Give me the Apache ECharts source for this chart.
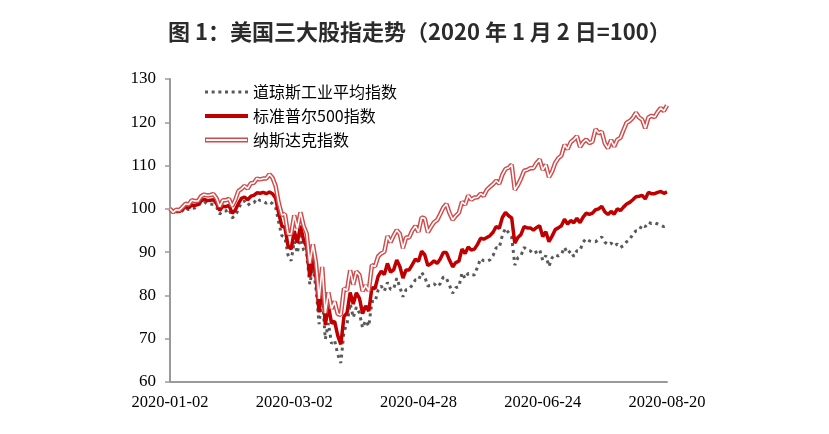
<!DOCTYPE html>
<html>
<head>
<meta charset="utf-8">
<script src="https://cdn.jsdelivr.net/npm/echarts@6/dist/echarts.min.js"></script>
<style>
    html, body { margin: 0; padding: 0; background: #fff; }
    #chart { width: 829px; height: 434px; }
</style>
</head>
<body>
<div id="chart"></div>
<script>
// Trading days, 2020-01-02 .. 2020-08-20
const dates = [
    '2020-01-02','2020-01-03','2020-01-06','2020-01-07','2020-01-08','2020-01-09','2020-01-10','2020-01-13','2020-01-14','2020-01-15','2020-01-16','2020-01-17','2020-01-21','2020-01-22','2020-01-23','2020-01-24','2020-01-27','2020-01-28','2020-01-29','2020-01-30','2020-01-31',
    '2020-02-03','2020-02-04','2020-02-05','2020-02-06','2020-02-07','2020-02-10','2020-02-11','2020-02-12','2020-02-13','2020-02-14','2020-02-18','2020-02-19','2020-02-20','2020-02-21','2020-02-24','2020-02-25','2020-02-26','2020-02-27','2020-02-28',
    '2020-03-02','2020-03-03','2020-03-04','2020-03-05','2020-03-06','2020-03-09','2020-03-10','2020-03-11','2020-03-12','2020-03-13','2020-03-16','2020-03-17','2020-03-18','2020-03-19','2020-03-20','2020-03-23','2020-03-24','2020-03-25','2020-03-26','2020-03-27','2020-03-30','2020-03-31',
    '2020-04-01','2020-04-02','2020-04-03','2020-04-06','2020-04-07','2020-04-08','2020-04-09','2020-04-13','2020-04-14','2020-04-15','2020-04-16','2020-04-17','2020-04-20','2020-04-21','2020-04-22','2020-04-23','2020-04-24','2020-04-27','2020-04-28','2020-04-29','2020-04-30',
    '2020-05-01','2020-05-04','2020-05-05','2020-05-06','2020-05-07','2020-05-08','2020-05-11','2020-05-12','2020-05-13','2020-05-14','2020-05-15','2020-05-18','2020-05-19','2020-05-20','2020-05-21','2020-05-22','2020-05-26','2020-05-27','2020-05-28','2020-05-29',
    '2020-06-01','2020-06-02','2020-06-03','2020-06-04','2020-06-05','2020-06-08','2020-06-09','2020-06-10','2020-06-11','2020-06-12','2020-06-15','2020-06-16','2020-06-17','2020-06-18','2020-06-19','2020-06-22','2020-06-23','2020-06-24','2020-06-25','2020-06-26','2020-06-29','2020-06-30',
    '2020-07-01','2020-07-02','2020-07-06','2020-07-07','2020-07-08','2020-07-09','2020-07-10','2020-07-13','2020-07-14','2020-07-15','2020-07-16','2020-07-17','2020-07-20','2020-07-21','2020-07-22','2020-07-23','2020-07-24','2020-07-27','2020-07-28','2020-07-29','2020-07-30','2020-07-31',
    '2020-08-03','2020-08-04','2020-08-05','2020-08-06','2020-08-07','2020-08-10','2020-08-11','2020-08-12','2020-08-13','2020-08-14','2020-08-17','2020-08-18','2020-08-19','2020-08-20'
];

// Index levels, 2020-01-02 = 100
const dowValues = [
    100.0, 99.2, 99.4, 99.0, 99.6, 100.3, 99.8, 100.1, 100.2, 100.6, 101.5, 101.7, 101.1, 101.1, 101.0, 100.4, 98.8, 99.5, 99.5, 100.0, 97.9,
    98.4, 99.8, 101.5, 101.8, 100.8, 101.4, 101.4, 102.4, 101.9, 101.8, 101.3, 101.7, 101.2, 100.4, 96.9, 93.8, 93.4, 89.3, 88.0,
    92.5, 89.8, 93.8, 90.5, 89.6, 82.6, 86.7, 81.6, 73.4, 80.3, 69.9, 73.6, 68.9, 69.6, 66.4, 64.4, 71.7, 73.4, 78.1, 74.9, 77.3, 75.9,
    72.5, 74.2, 72.9, 78.6, 78.5, 81.2, 82.2, 81.0, 83.0, 81.4, 81.5, 84.0, 81.9, 79.7, 81.3, 81.5, 82.4, 83.6, 83.5, 85.3, 84.3,
    82.2, 82.3, 82.7, 82.0, 82.7, 84.3, 83.9, 82.3, 80.5, 81.8, 82.0, 85.2, 83.9, 85.1, 84.8, 84.7, 86.6, 88.5, 88.0, 87.9,
    88.2, 89.2, 91.0, 91.0, 93.9, 95.5, 94.5, 93.5, 87.0, 88.7, 89.2, 91.1, 90.5, 90.3, 89.6, 90.1, 90.6, 88.1, 89.2, 86.7, 88.7, 89.4,
    89.1, 89.5, 91.1, 89.7, 90.3, 89.0, 90.3, 90.4, 92.3, 93.1, 92.6, 92.4, 92.4, 93.0, 93.5, 92.3, 91.7, 92.1, 91.4, 91.9, 91.1, 91.5,
    92.4, 92.9, 94.2, 94.9, 95.0, 96.3, 95.9, 96.9, 96.6, 96.8, 96.5, 96.2, 95.9, 96.1
];

const spxValues = [
    100.0, 99.3, 99.6, 99.4, 99.9, 100.5, 100.2, 100.9, 100.8, 101.0, 101.8, 102.2, 101.9, 102.0, 102.1, 101.2, 99.6, 100.6, 100.5, 100.8, 99.0,
    99.7, 101.2, 102.4, 102.7, 102.1, 102.9, 103.1, 103.7, 103.6, 103.8, 103.5, 103.9, 103.5, 102.5, 99.0, 96.0, 95.7, 91.4, 90.7,
    94.9, 92.2, 96.1, 92.8, 91.2, 84.3, 88.5, 84.1, 76.1, 83.2, 73.2, 77.6, 73.6, 74.0, 70.7, 68.7, 75.1, 76.0, 80.7, 78.0, 80.6, 79.3,
    75.8, 77.6, 76.4, 81.8, 81.6, 84.4, 85.6, 84.8, 87.4, 85.4, 85.9, 88.2, 86.7, 84.0, 85.9, 85.9, 87.1, 88.4, 87.9, 90.2, 89.4,
    86.9, 87.3, 88.0, 87.4, 88.4, 89.9, 89.9, 88.1, 86.6, 87.6, 87.9, 90.7, 89.7, 91.2, 90.5, 90.7, 91.8, 93.2, 93.0, 93.4,
    93.8, 94.6, 95.9, 95.5, 98.0, 99.2, 98.4, 97.9, 92.1, 93.4, 94.1, 95.9, 95.6, 95.6, 95.1, 95.7, 96.1, 93.6, 94.7, 92.4, 93.7, 95.2,
    95.6, 96.1, 97.6, 96.5, 97.3, 96.8, 97.8, 96.8, 98.1, 99.0, 98.7, 99.0, 99.8, 100.0, 100.6, 99.3, 98.7, 99.4, 98.8, 100.0, 99.6, 100.4,
    101.1, 101.5, 102.1, 102.8, 102.9, 103.1, 102.3, 103.8, 103.5, 103.5, 103.8, 104.0, 103.6, 103.9
];

const nasdaqValues = [
    100.0, 99.2, 99.8, 99.7, 100.4, 101.2, 101.0, 102.0, 101.8, 101.8, 102.9, 103.3, 103.1, 103.2, 103.4, 102.4, 100.5, 102.0, 102.0, 102.3, 100.6,
    102.0, 104.1, 104.6, 105.3, 104.7, 105.9, 106.0, 107.0, 106.8, 107.0, 107.0, 108.0, 107.2, 105.3, 101.4, 98.6, 98.8, 94.2, 94.2,
    98.5, 95.5, 99.2, 96.1, 94.3, 87.4, 91.8, 87.5, 79.2, 86.6, 75.9, 80.7, 76.9, 78.6, 75.7, 75.5, 81.6, 81.2, 85.8, 82.5, 85.5, 84.7,
    81.0, 82.3, 81.1, 87.0, 86.7, 89.0, 89.7, 90.1, 93.7, 92.3, 93.8, 95.1, 94.2, 90.9, 93.4, 93.4, 95.0, 96.0, 94.7, 98.0, 97.8,
    94.6, 95.8, 96.9, 97.4, 98.8, 100.3, 101.1, 99.0, 97.5, 98.4, 99.1, 101.6, 101.0, 103.1, 102.1, 102.6, 102.7, 103.5, 103.0, 104.4,
    105.1, 105.7, 106.5, 105.8, 107.9, 109.2, 109.5, 110.2, 104.4, 105.5, 107.0, 108.8, 109.0, 109.4, 109.4, 110.6, 111.4, 109.0, 110.2, 107.3, 108.6, 110.6,
    111.7, 112.3, 114.8, 113.8, 115.4, 116.0, 116.8, 114.3, 115.4, 116.0, 115.2, 115.5, 118.4, 117.5, 117.8, 115.1, 114.0, 115.9, 114.4, 116.0, 116.4, 118.2,
    119.9, 120.3, 121.0, 122.2, 121.1, 120.6, 118.6, 121.1, 121.5, 121.2, 122.4, 123.3, 122.6, 123.9
];

const seriesNames = ['道琼斯工业平均指数', '标准普尔500指数', '纳斯达克指数'];

// Colors
const dowColor = '#595959';
const spxColor = '#C00000';
const nasdaqColor = '#D24A4A';

// Legend icons drawn as paths (dotted / solid / double line)
const dotIcon = 'path://M0,0h3v3h-3z M6.67,0h3v3h-3z M13.33,0h3v3h-3z M20,0h3v3h-3z M26.67,0h3v3h-3z M33.33,0h3v3h-3z M40,0h3v3h-3z';
const solidIcon = 'path://M0,0H43V4H0Z';
const doubleIcon = 'path://M0,0H43V5H0Z M1,1.6V3.4H42V1.6Z';

const serifFont = '"Times New Roman", "Liberation Serif", serif';
const cjkFont = '"Noto Sans CJK SC", sans-serif';

const chart = echarts.init(document.getElementById('chart'));

const options = {
    animation: false,
    backgroundColor: '#fff',
    title: {
        text: '图 1：美国三大股指走势（2020 年 1 月 2 日=100）',
        left: 168,
        top: 21,
        padding: 0,
        textStyle: {
            fontFamily: cjkFont,
            fontSize: 22,
            fontWeight: 'bold',
            color: '#2b2b2b'
        }
    },
    legend: {
        orient: 'vertical',
        left: 205,
        top: 84,
        padding: 0,
        itemWidth: 43,
        itemHeight: 14,
        itemGap: 8,
        selectedMode: false,
        itemStyle: { borderWidth: 0 },
        textStyle: {
            fontFamily: cjkFont,
            fontSize: 16,
            color: '#000'
        },
        data: [
            { name: seriesNames[0], icon: dotIcon },
            { name: seriesNames[1], icon: solidIcon },
            { name: seriesNames[2], icon: doubleIcon }
        ]
    },
    grid: {
        left: 170,
        right: 162,
        top: 79,
        bottom: 52
    },
    xAxis: {
        type: 'category',
        boundaryGap: false,
        data: dates,
        axisLine: {
            lineStyle: { color: '#9a9a9a', width: 2 }
        },
        axisTick: { show: false },
        axisLabel: {
            interval: 39,
            margin: 12,
            color: '#000',
            fontFamily: serifFont,
            fontSize: 16.5
        },
        splitLine: { show: false }
    },
    yAxis: {
        type: 'value',
        min: 60,
        max: 130,
        interval: 10,
        axisLine: {
            show: true,
            lineStyle: { color: '#9a9a9a', width: 2 }
        },
        axisTick: {
            show: true,
            length: 5,
            lineStyle: { color: '#9a9a9a', width: 1.5 }
        },
        axisLabel: {
            margin: 14,
            color: '#000',
            fontFamily: serifFont,
            fontSize: 17
        },
        splitLine: { show: false }
    },
    series: [
        {
            name: seriesNames[0],
            type: 'line',
            data: dowValues,
            showSymbol: false,
            symbol: 'none',
            itemStyle: { color: dowColor },
            lineStyle: { color: dowColor, width: 3, type: [3, 4], cap: 'butt' }
        },
        {
            name: seriesNames[1],
            type: 'line',
            data: spxValues,
            showSymbol: false,
            symbol: 'none',
            itemStyle: { color: spxColor },
            lineStyle: { color: spxColor, width: 3.5 }
        },
        {
            name: seriesNames[2],
            type: 'line',
            data: nasdaqValues,
            showSymbol: false,
            symbol: 'none',
            itemStyle: { color: nasdaqColor },
            lineStyle: { color: nasdaqColor, width: 4.5 }
        },
        {
            // white core of the double line
            name: seriesNames[2] + '-inner',
            type: 'line',
            data: nasdaqValues,
            showSymbol: false,
            symbol: 'none',
            itemStyle: { color: '#fff' },
            lineStyle: { color: '#fff', width: 1.6 }
        }
    ]
};

chart.setOption(options);
</script>
</body>
</html>
